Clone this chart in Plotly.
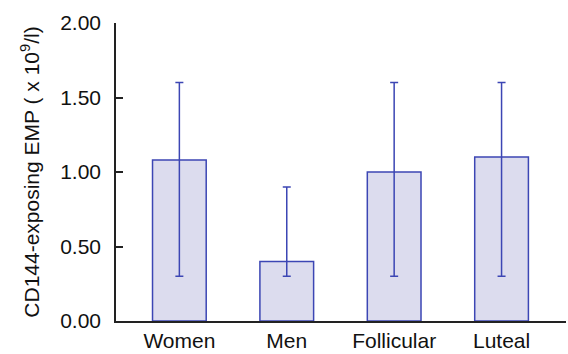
import plotly.graph_objects as go

# Group means with asymmetric error ranges (x 10^9/l)
groups = ["Women", "Men", "Follicular", "Luteal"]
means = [1.08, 0.40, 1.00, 1.10]
upper = [1.60, 0.90, 1.60, 1.60]
lower = [0.30, 0.30, 0.30, 0.30]

err_plus = [u - m for u, m in zip(upper, means)]
err_minus = [m - l for m, l in zip(means, lower)]

blue = "#3c46b4"
fig = go.Figure(
    go.Bar(
        x=groups,
        y=means,
        width=0.5,
        marker=dict(color="#dcdcee", line=dict(color=blue, width=1.5)),
        error_y=dict(
            type="data",
            symmetric=False,
            array=err_plus,
            arrayminus=err_minus,
            color=blue,
            thickness=1.5,
            width=4,
        ),
    )
)

font = "Liberation Sans, Arial, sans-serif"
fig.update_layout(
    width=568,
    height=354,
    margin=dict(l=116, r=2, t=23, b=31),
    paper_bgcolor="white",
    plot_bgcolor="white",
    showlegend=False,
    font=dict(family=font, size=21, color="#111111"),
    xaxis=dict(
        range=[-0.59, 3.6],
        showline=True,
        linecolor="#222222",
        linewidth=1.5,
        ticks="",
        showgrid=False,
        tickfont=dict(size=21),
    ),
    yaxis=dict(
        range=[0, 2],
        tickvals=[0, 0.5, 1.0, 1.5, 2.0],
        ticktext=["0.00", "0.50", "1.00", "1.50", "2.00"],
        showline=True,
        linecolor="#222222",
        linewidth=1.5,
        ticks="inside",
        ticklen=7,
        tickwidth=1.5,
        tickcolor="#222222",
        showgrid=False,
        zeroline=False,
        ticklabelstandoff=9,
        tickfont=dict(size=21),
        title=dict(
            text="CD144-exposing EMP ( x 10<sup>9</sup>/l)",
            font=dict(size=21),
            standoff=15,
        ),
    ),
)

fig.write_html("out.html")
